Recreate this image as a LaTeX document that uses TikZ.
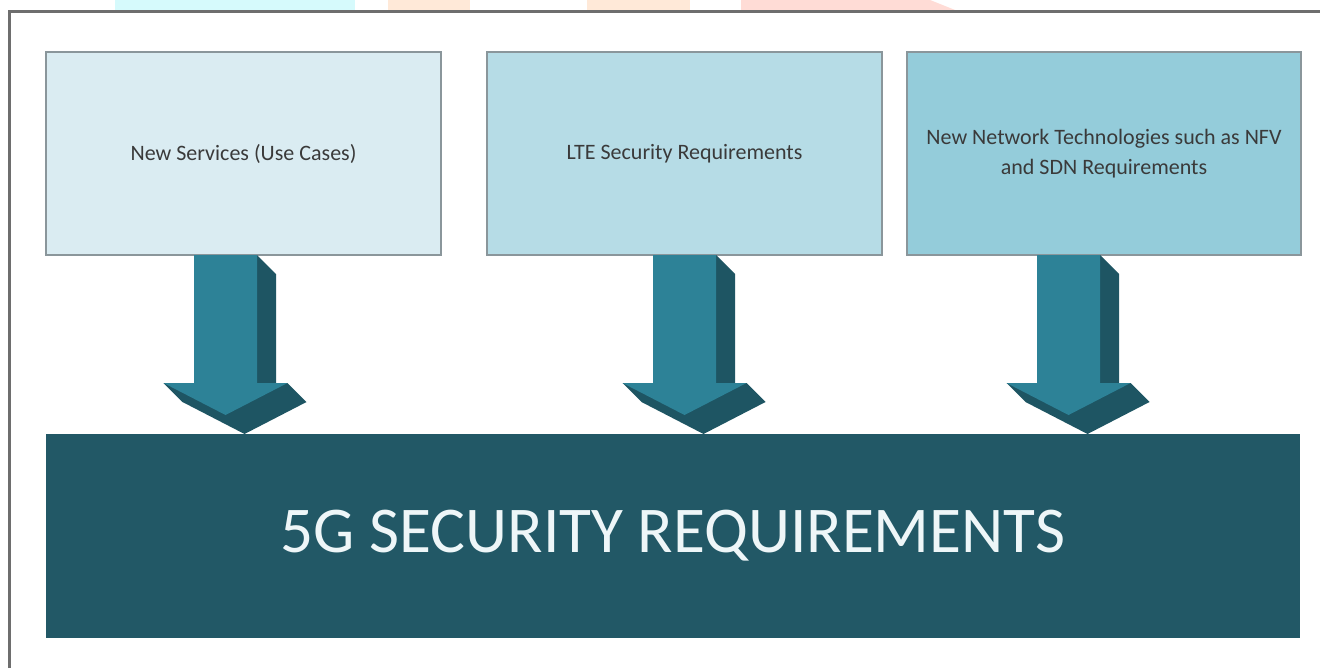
\documentclass[tikz,border=0pt]{standalone}
\usepackage{fontspec}
\setmainfont{Carlito}
\definecolor{boxa}{HTML}{DAECF2}
\definecolor{boxb}{HTML}{B6DCE6}
\definecolor{boxc}{HTML}{94CCDA}
\definecolor{boxline}{HTML}{8A969B}
\definecolor{txtgray}{HTML}{3A3A3A}
\definecolor{arrfrontc}{HTML}{2D8297}
\definecolor{arrdarkc}{HTML}{1E5563}
\definecolor{basec}{HTML}{225866}
\definecolor{basetext}{HTML}{EEF6F8}
\definecolor{framec}{HTML}{6E6E6E}
\definecolor{wmcyan}{HTML}{D6FAFC}
\definecolor{wmorange}{HTML}{FFE9D8}
\definecolor{wmpink}{HTML}{FFDCD6}
\tikzset{
  topbox/.style={draw=boxline, line width=1.1pt, minimum width=296.25pt, minimum height=152.25pt,
    inner sep=0pt, outer sep=0pt, text=txtgray, align=center,
    font=\fontsize{16.5pt}{22.5pt}\selectfont},
  basebox/.style={fill=basec, minimum width=940.5pt, minimum height=153pt, inner sep=0pt, outer sep=0pt,
    text=basetext, font=\fontsize{49pt}{58pt}\selectfont},
  arrowthreed/.pic={
    \fill[arrdarkc] (-31.5,0) -- (31.5,0) -- (50.5,19) -- (50.5,128) -- (62,128) -- (81,147)
      -- (19,179) -- (-43,147) -- (-62,128) -- (-31.5,128) -- cycle;
    \fill[arrfrontc] (-31.5,0) -- (31.5,0) -- (31.5,128) -- (62,128) -- (0,160) -- (-62,128)
      -- (-31.5,128) -- cycle;
  }
}
\begin{document}
\begin{tikzpicture}[x=0.75pt,y=-0.75pt]
\useasboundingbox (0,0) rectangle (1320,668);
\fill[white] (0,0) rectangle (1320,668);
% faint watermark remnants at the top edge
\fill[wmcyan] (115,0) rectangle (355,10);
\fill[wmorange] (388,0) rectangle (470,10);
\fill[wmorange] (587,0) rectangle (690,10);
\fill[wmpink] (741,0) -- (930,0) -- (955,10) -- (741,10) -- cycle;
% frame
\draw[framec, line width=1.9pt] (9.5,668) -- (9.5,11.5) -- (1320,11.5);
% top boxes
\node[topbox, fill=boxa] (b1) at (243.5,153.5) {New Services (Use Cases)};
\node[topbox, fill=boxb] (b2) at (684.5,153.5) {LTE Security Requirements};
\node[topbox, fill=boxc, minimum width=295.5pt] (b3) at (1104,153.5) {New Network Technologies such as NFV\\and SDN Requirements};
% 3D arrows
\pic (a1) at (225.5,255) {arrowthreed};
\pic (a2) at (684.5,255) {arrowthreed};
\pic (a3) at (1068.5,255) {arrowthreed};
% base box
\node[basebox] (base) at (673,536) {5G SECURITY REQUIREMENTS};
\end{tikzpicture}
\end{document}
